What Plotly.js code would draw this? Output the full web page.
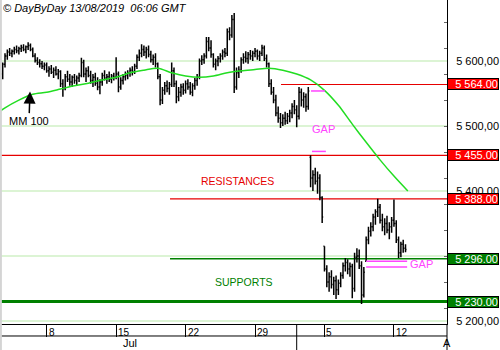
<!DOCTYPE html>
<html>
<head>
<meta charset="utf-8">
<script src="https://cdn.plot.ly/plotly-3.0.1.min.js"></script>
<style>html,body{margin:0;padding:0;background:#fff;}#chart{width:500px;height:350px;}</style>
</head>
<body>
<div id="chart"></div>
<script>
// ---- DATA ----
// trading-day index: Jul 1 = 0 ... (weekends skipped); 6 bars per day; first bar = day 1, slot 4
const barsPerDay = 6;
const firstBarDay = 1 + 4 / 6;
const open = [
5575,5580,
5595,5608,5614,5612,5615,5618,
5616,5619,5621,5618,5622,5624,
5618,5608,5601,5598,5596,5592,
5594,5585,5588,5583,5586,5580,
5584,5565,5558,5576,5572,5568,
5575,5570,5574,5578,5598,5580,
5585,5578,5570,5575,5566,5560,
5568,5578,5574,5576,5572,5577,
5575,5580,5560,5570,5576,5578,
5582,5586,5584,5592,5606,5612,
5618,5614,5618,5610,5602,5606,
5596,5576,5540,5555,5562,5558,
5564,5585,5565,5545,5552,5560,
5555,5565,5560,5552,5562,5570,
5575,5600,5602,5608,5630,5620,
5610,5595,5600,5604,5608,5614,
5612,5645,5640,5664,5560,5582,
5586,5602,5606,5604,5610,5608,
5612,5615,5608,5612,5620,5604,
5596,5565,5552,5540,5520,5512,
5505,5512,5508,5515,5520,5530,
5525,5515,5552,5540,5545,5530,
5452,5420,5425,5415,5420,5390,
5315,5280,5260,5268,5256,5262,
5248,5258,5270,5285,5290,5280,
5284,5250,5298,5300,5285,5240,
5292,5325,5338,5345,5360,5368,
5375,5355,5345,5350,5340,5345,
5355,5350,5325,5305,5318,5312
];
const high = [
5585,5598,
5612,5618,5620,5618,5622,5624,
5622,5625,5626,5624,5629,5627,
5621,5612,5606,5603,5600,5598,
5598,5592,5594,5590,5592,5588,
5586,5572,5580,5585,5580,5578,
5580,5578,5582,5605,5602,5590,
5592,5585,5580,5582,5575,5572,
5582,5586,5580,5584,5580,5582,
5606,5584,5575,5580,5584,5586,
5590,5592,5596,5610,5618,5626,
5624,5622,5624,5616,5610,5612,
5598,5580,5560,5568,5570,5568,
5598,5590,5570,5560,5565,5566,
5570,5572,5568,5566,5574,5580,
5604,5609,5612,5637,5637,5632,
5612,5604,5608,5612,5618,5620,
5650,5652,5671,5674,5590,5592,
5606,5612,5615,5614,5617,5616,
5620,5618,5616,5625,5624,5610,
5598,5572,5560,5548,5530,5520,
5518,5522,5520,5525,5535,5540,
5532,5560,5558,5552,5550,5560,
5455,5432,5436,5430,5426,5392,
5315,5286,5275,5278,5268,5270,
5264,5275,5290,5297,5295,5290,
5288,5305,5312,5310,5292,5283,
5330,5345,5352,5365,5372,5388,
5380,5365,5358,5362,5352,5360,
5387,5355,5330,5322,5325,5318
];
const low = [
5570,5572,
5590,5602,5608,5606,5610,5612,
5610,5614,5615,5612,5617,5615,
5606,5598,5594,5590,5588,5586,
5582,5576,5580,5574,5578,5572,
5560,5545,5555,5568,5562,5560,
5565,5562,5568,5575,5575,5568,
5575,5565,5560,5562,5555,5549,
5562,5570,5565,5568,5566,5570,
5572,5552,5556,5564,5570,5572,
5576,5578,5580,5588,5600,5606,
5608,5604,5606,5598,5594,5590,
5572,5532,5534,5548,5552,5548,
5560,5560,5535,5538,5545,5548,
5550,5556,5548,5546,5556,5562,
5572,5594,5596,5604,5615,5605,
5590,5586,5592,5598,5602,5606,
5608,5632,5636,5551,5556,5574,
5582,5596,5598,5596,5602,5600,
5606,5602,5600,5608,5600,5590,
5560,5548,5535,5515,5505,5497,
5500,5502,5503,5506,5512,5518,
5498,5510,5530,5528,5522,5525,
5406,5400,5410,5396,5386,5351,
5276,5252,5245,5250,5240,5234,
5240,5252,5265,5276,5272,5268,
5235,5245,5290,5280,5226,5236,
5292,5318,5330,5338,5348,5360,
5350,5338,5332,5335,5326,5336,
5345,5320,5297,5298,5305,5306
];
const close = [
5580,5595,
5608,5614,5612,5615,5618,5616,
5619,5621,5618,5622,5624,5618,
5608,5601,5598,5596,5592,5594,
5585,5588,5583,5586,5580,5584,
5565,5558,5576,5572,5568,5575,
5570,5574,5578,5598,5580,5585,
5578,5570,5575,5566,5560,5568,
5578,5574,5576,5572,5577,5575,
5580,5560,5570,5576,5578,5582,
5586,5584,5592,5606,5612,5618,
5614,5618,5610,5602,5606,5596,
5576,5540,5555,5562,5558,5564,
5585,5565,5545,5552,5560,5555,
5565,5560,5552,5562,5570,5575,
5600,5602,5608,5630,5620,5610,
5595,5600,5604,5608,5614,5612,
5645,5640,5664,5560,5582,5586,
5602,5606,5604,5610,5608,5612,
5615,5608,5612,5620,5604,5596,
5565,5552,5540,5520,5512,5505,
5512,5508,5515,5520,5530,5525,
5515,5552,5540,5545,5530,5554,
5420,5425,5415,5420,5390,5360,
5280,5260,5268,5256,5262,5248,
5258,5270,5285,5290,5280,5284,
5250,5298,5300,5285,5240,5275,
5325,5338,5345,5360,5368,5375,
5355,5345,5350,5340,5345,5355,
5350,5325,5305,5318,5312,5310
];
// 100-period moving average, one reading per trading day (day 1 .. day 31)
const maFirstDay = 1;
const ma100 = [5512,5528,5540,5549,5552,5557,5562,5566,5571,5575,5582,5586,5589,5582,5577,5575,5577,5582,5585,5587,5589,5586,5580,5571,5555,5532,5503,5475,5448,5423,5400];

// x axis labels (trading-day index of each Monday)
const tickDays = [5, 10, 15, 20, 25, 30];
const tickLabels = ['8', '15', '22', '29', '5', '12'];
const monthStartDay = 23;           // Aug 1
const monthLabels = ['Jul', 'A'];

// y axis labels (5 300,00 is fully hidden behind a level box in the reference)
const yTicks = [5200, 5300, 5400, 5500, 5600];
const yTickText = ['5 200,00', '', '5 400,00', '5 500,00', '5 600,00'];

// support / resistance levels
const levels = [5564, 5455, 5388, 5296, 5230];
const levelKind = ['R', 'R', 'R', 'S', 'S'];
// gap bounds
const gapLevels = [5554, 5461, 5292, 5283];

// ---- BUILD ----
const barX = open.map((_, i) => firstBarDay + i / barsPerDay);
const maX = ma100.map((_, i) => maFirstDay + i);
const fmt = v => { const s = v.toFixed(2); return s.slice(0, 1) + ' ' + s.slice(1); };

const X0 = 1.64, X1 = 33.82;
const FONT = 'Liberation Sans, Arial, sans-serif';
const RED = '#e60000', GREEN = '#008000', MAG = '#ff44ff';

const traces = [
  {
    type: 'ohlc', x: barX, open: open, high: high, low: low, close: close,
    increasing: {line: {color: 'black', width: 1.5}},
    decreasing: {line: {color: 'black', width: 1.5}},
    tickwidth: 0.45, hoverinfo: 'skip', showlegend: false
  },
  {
    type: 'scatter', mode: 'lines', x: maX, y: ma100,
    line: {color: '#22dd22', width: 1.5, shape: 'spline', smoothing: 0.8},
    hoverinfo: 'skip', showlegend: false, cliponaxis: true
  }
];

const levelStart = [21.87, X0, 13.88, 13.88, X0];
const levelWidth = [1.2, 1.2, 1.2, 1.5, 3];
const shapes = [];
levels.forEach((v, i) => {
  shapes.push({type: 'line', xref: 'x', yref: 'y', x0: levelStart[i], x1: X1, y0: v, y1: v,
    line: {color: levelKind[i] === 'R' ? RED : GREEN, width: levelWidth[i]}, layer: 'below'});
});
const gapX = [[24.03, 25.04], [24.1, 25.1], [28.0, 30.95], [28.0, 30.95]];
gapLevels.forEach((v, i) => {
  shapes.push({type: 'line', xref: 'x', yref: 'y', x0: gapX[i][0], x1: gapX[i][1], y0: v, y1: v,
    line: {color: MAG, width: 1.5}, layer: 'above'});
});
// date panel lines
shapes.push({type: 'line', xref: 'paper', yref: 'paper', x0: 0, x1: 1, y0: -0.037, y1: -0.037, line: {color: 'black', width: 1}});
shapes.push({type: 'line', xref: 'x', yref: 'paper', x0: monthStartDay, x1: monthStartDay, y0: 0, y1: -0.081, line: {color: 'black', width: 1}});
shapes.push({type: 'line', xref: 'paper', yref: 'paper', x0: 1, x1: 1, y0: -0.081, y1: 0, line: {color: 'black', width: 1}});
shapes.push({type: 'line', xref: 'paper', yref: 'paper', x0: 0.002, x1: 0.002, y0: -0.081, y1: 1, line: {color: '#d4d4d4', width: 2}});

const annotations = [];
annotations.push({xref: 'paper', yref: 'paper', x: 0, y: 1, xanchor: 'left', yanchor: 'top', xshift: 1,
  text: '<i>© DayByDay 13/08/2019\u00a0\u00a006:06 GMT</i>', showarrow: false, font: {family: FONT, size: 11, color: 'black'}});
annotations.push({xref: 'x', yref: 'y', x: 3.8, y: 5553, text: 'MM 100', showarrow: true, ax: -1, ay: 29,
  arrowhead: 2, arrowsize: 1.6, arrowwidth: 1.5, arrowcolor: 'black', standoff: 0,
  font: {family: FONT, size: 11, color: 'black'}});
annotations.push({xref: 'x', yref: 'y', x: 18.77, y: 5415, text: 'RESISTANCES', showarrow: false,
  font: {family: FONT, size: 10.5, color: RED}});
annotations.push({xref: 'x', yref: 'y', x: 19.22, y: 5260, text: 'SUPPORTS', showarrow: false,
  font: {family: FONT, size: 10.5, color: GREEN}});
annotations.push({xref: 'x', yref: 'y', x: 24.91, y: 5495, text: 'GAP', showarrow: false,
  font: {family: FONT, size: 11, color: MAG}});
annotations.push({xref: 'x', yref: 'y', x: 31.98, y: 5288, text: 'GAP', showarrow: false,
  font: {family: FONT, size: 11, color: MAG}});
levels.forEach((v, i) => {
  annotations.push({xref: 'paper', yref: 'y', x: 1, y: v, xanchor: 'left', yanchor: 'middle', xshift: 0,
    text: fmt(v), showarrow: false, align: 'right', width: 50, height: 10, borderpad: 0,
    bgcolor: levelKind[i] === 'R' ? '#ff0000' : '#008000', bordercolor: 'black', borderwidth: 1,
    font: {family: FONT, size: 11, color: 'white'}});
});
tickDays.forEach((d, i) => {
  annotations.push({xref: 'x', yref: 'paper', x: d, y: -0.003, xanchor: 'left', yanchor: 'top', xshift: 0,
    text: tickLabels[i], showarrow: false, font: {family: FONT, size: 10, color: 'black'}});
});
annotations.push({xref: 'x', yref: 'paper', x: 11.0, y: -0.0586, xanchor: 'center', yanchor: 'middle',
  text: monthLabels[0], showarrow: false, font: {family: FONT, size: 11, color: 'black'}});
annotations.push({xref: 'x', yref: 'paper', x: 33.39, y: -0.0586, xanchor: 'left', yanchor: 'middle',
  text: monthLabels[1], showarrow: false, font: {family: FONT, size: 11, color: 'black'}});

const layout = {
  width: 500, height: 350,
  margin: {l: 0, r: 53, t: 0, b: 26, pad: 0},
  paper_bgcolor: 'white', plot_bgcolor: 'white',
  showlegend: false,
  font: {family: FONT, size: 11, color: 'black'},
  xaxis: {
    range: [X0, X1], type: 'linear', tickvals: tickDays, ticktext: tickLabels, showticklabels: false,
    ticks: 'outside', ticklen: 12, tickcolor: 'black', tickwidth: 1,
    showgrid: false, zeroline: false, showline: true, linecolor: 'black', linewidth: 1,
    rangeslider: {visible: false}, fixedrange: true
  },
  yaxis: {
    side: 'right', range: [5195.4, 5694], tickvals: yTicks, ticktext: yTickText,
    showgrid: true, gridcolor: '#dcf4d4', gridwidth: 1.5, zeroline: false,
    showline: true, linecolor: 'black', linewidth: 1,
    ticks: 'outside', ticklen: 6, tickcolor: 'rgba(0,0,0,0)',
    tickfont: {family: FONT, size: 11, color: 'black'},
    minor: {ticks: 'inside', ticklen: 3, tick0: 5500, dtick: 40, tickcolor: '#666', showgrid: false},
    fixedrange: true
  },
  shapes: shapes,
  annotations: annotations
};

Plotly.newPlot('chart', traces, layout, {displayModeBar: false, staticPlot: true});
</script>
</body>
</html>
